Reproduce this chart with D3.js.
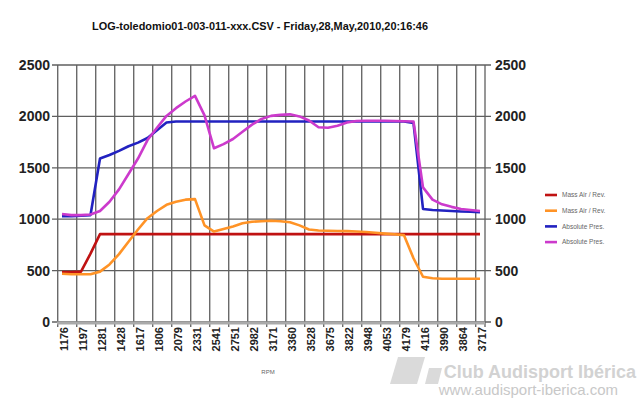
<!DOCTYPE html>
<html><head><meta charset="utf-8">
<script src="https://cdn.jsdelivr.net/npm/d3@7"></script>
<style>
html,body{margin:0;padding:0;background:#fff;}
svg{display:block;font-family:"Liberation Sans",Arial,sans-serif;}
</style></head>
<body><svg id="c" width="640" height="400"></svg>
<script>
// ---- data ----
const title = "LOG-toledomio01-003-011-xxx.CSV - Friday,28,May,2010,20:16:46";
const tickLabels = ["1176","1197","1281","1428","1617","1806","2079","2331","2541","2751","2982","3171","3360","3528","3675","3822","3948","4053","4179","4116","3990","3864","3717"];
const yTicks = [0,500,1000,1500,2000,2500];
const seriesNames = ["Mass Air / Rev.","Mass Air / Rev.","Absolute Pres.","Absolute Pres."];
const seriesColors = ["#c01212","#ff9326","#2222c0","#cc3acc"];
const massAir1 = [485,485,490,665,855,855,855,855,855,855,855,855,855,855,855,855,855,855,855,855,855,855,855,855,855,855,855,855,855,855,855,855,855,855,855,855,855,855,855,855,855,855,855,855,855];
const massAir2 = [470,465,465,465,490,560,660,780,900,1010,1080,1140,1170,1190,1195,940,880,905,930,960,975,980,985,980,970,940,900,890,888,885,884,880,875,868,860,853,845,620,440,425,420,420,420,420,420];
const absPres1 = [1030,1030,1035,1040,1590,1625,1665,1710,1745,1790,1865,1940,1950,1950,1950,1950,1950,1950,1950,1950,1950,1950,1950,1950,1950,1950,1950,1950,1950,1950,1950,1950,1950,1950,1950,1950,1950,1935,1100,1090,1085,1080,1075,1072,1068];
const absPres2 = [1050,1040,1040,1045,1080,1170,1290,1440,1590,1770,1890,2005,2080,2145,2200,2010,1690,1730,1780,1850,1920,1975,2005,2015,2020,2000,1960,1895,1890,1910,1940,1955,1958,1958,1957,1955,1953,1950,1310,1190,1145,1120,1100,1090,1080];
const allSeries = [massAir1, massAir2, absPres1, absPres2];

// ---- layout ----
const svg = d3.select("#c");
const plotL = 57, plotR = 485, plotT = 65, plotB = 322;
const nPts = massAir1.length;
const x = d3.scaleLinear().domain([0, nPts-1]).range([62, 480]);
const y = d3.scaleLinear().domain([0, 2500]).range([plotB, plotT]);
const step = (nPts-1)/(tickLabels.length-1);

svg.append("text").attr("x",260).attr("y",30).attr("text-anchor","middle")
  .attr("font-size",10.5).attr("font-weight","bold").attr("fill","#111")
  .attr("textLength",336).attr("lengthAdjust","spacingAndGlyphs").text(title);

const grid = svg.append("g").attr("stroke","#444").attr("stroke-width",1.3).attr("opacity",0.85);
tickLabels.forEach((t,i)=>{
  const gx = x(i*step - 0.45);
  grid.append("line").attr("x1",gx).attr("x2",gx).attr("y1",plotT).attr("y2",plotB+5);
});
grid.append("line").attr("x1",plotR).attr("x2",plotR).attr("y1",plotT).attr("y2",plotB+5);
yTicks.forEach(v=>{
  grid.append("line").attr("x1",plotL-5).attr("x2",plotR+6).attr("y1",y(v)).attr("y2",y(v));
});
svg.append("line").attr("x1",plotL).attr("x2",plotR).attr("y1",plotB+1).attr("y2",plotB+1)
  .attr("stroke","#aaa").attr("stroke-width",3);

const yl = svg.append("g").attr("font-size",14).attr("font-weight","bold").attr("fill","#222");
yTicks.forEach(v=>{
  yl.append("text").attr("x",50).attr("y",y(v)).attr("dy","0.36em").attr("text-anchor","end").text(v);
  yl.append("text").attr("x",495).attr("y",y(v)).attr("dy","0.36em").attr("text-anchor","start").text(v);
});
const xl = svg.append("g").attr("font-size",11).attr("font-weight","bold").attr("fill","#222");
tickLabels.forEach((t,i)=>{
  const px = x(i*step)+2;
  xl.append("text").attr("transform",`translate(${px},${plotB+5}) rotate(-90)`)
    .attr("text-anchor","end").attr("dy","0.36em").text(t);
});
svg.append("text").attr("x",268).attr("y",374).attr("text-anchor","middle").attr("font-size",6).attr("fill","#666").text("RPM");

const line = d3.line().x((d,i)=>x(i)).y(d=>y(d));
allSeries.forEach((s,k)=>{
  svg.append("path").datum(s).attr("d",line).attr("fill","none")
    .attr("stroke",seriesColors[k]).attr("stroke-width",2.6).attr("stroke-linejoin","round");
});

const lg = svg.append("g");
seriesNames.forEach((n,k)=>{
  const ly = 195 + k*15.7;
  lg.append("line").attr("x1",545).attr("x2",557).attr("y1",ly).attr("y2",ly)
    .attr("stroke",seriesColors[k]).attr("stroke-width",2.6);
  lg.append("text").attr("x",562).attr("y",ly).attr("dy","0.35em").attr("font-size",6.5)
    .attr("fill","#666").text(n);
});

const wm = svg.append("g");
wm.append("path").attr("d","M398,357 L425,357 L417,384 L390,384 Z").attr("fill","#dadada");
wm.append("path").attr("d","M429,368 L442,368 L438,384 L425,384 Z").attr("fill","#dadada");
wm.append("text").attr("x",636).attr("y",378).attr("text-anchor","end").attr("font-size",18)
  .attr("font-weight","bold").attr("fill","#d2d2d2").text("Club Audisport Ibérica");
wm.append("text").attr("x",618).attr("y",395).attr("text-anchor","end").attr("font-size",15)
  .attr("fill","#c8c8c8").text("www.audisport-iberica.com");
</script></body></html>
